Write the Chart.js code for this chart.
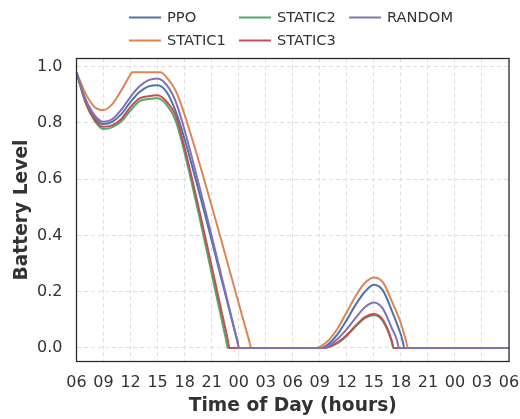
<!DOCTYPE html>
<html>
<head>
<meta charset="utf-8">
<script src="https://cdn.jsdelivr.net/npm/chart.js@4.4.1/dist/chart.umd.min.js"></script>
<style>
    html, body { margin: 0; padding: 0; background: #ffffff; }
    #wrap { width: 520px; height: 419px; }
</style>
</head>
<body>
<div id="wrap"><canvas id="chart" width="520" height="419"></canvas></div>
<script>
// ==========================================
// DATOS (horas desde las 06:00 del primer día)
// ==========================================
const ppoHours = [0, 1, 2, 3, 4, 5, 6, 7, 8, 9, 10, 11, 12, 17.8, 18.05, 27.1, 28, 29, 30, 31, 32, 33, 34, 35, 36, 36.2, 36.4, 48];
const ppoLevel = [0.98, 0.88, 0.82, 0.796, 0.805, 0.832, 0.875, 0.91, 0.93, 0.934, 0.91, 0.842, 0.742, 0.031, 0, 0, 0.015, 0.05, 0.1, 0.155, 0.2, 0.225, 0.205, 0.132, 0.047, 0.024, 0, 0];

const static1Hours = [0, 1, 2, 3, 4, 5, 6, 6.15, 9.3, 10, 11, 12, 19.15, 19.4, 26.6, 27, 28, 29, 30, 31, 32, 33, 34, 35, 36, 36.55, 36.8, 48];
const static1Level = [0.98, 0.905, 0.857, 0.846, 0.868, 0.917, 0.973, 0.98, 0.98, 0.962, 0.915, 0.829, 0.028, 0, 0, 0.004, 0.028, 0.07, 0.128, 0.186, 0.231, 0.251, 0.234, 0.166, 0.088, 0.028, 0, 0];

const static2Hours = [0, 1, 2, 3, 4, 5, 6, 7, 8, 9, 10, 11, 12, 16.55, 16.8, 27.4, 28, 29, 30, 31, 32, 33, 34, 35, 35.15, 48];
const static2Level = [0.98, 0.872, 0.808, 0.778, 0.785, 0.806, 0.845, 0.877, 0.885, 0.888, 0.865, 0.808, 0.693, 0.036, 0, 0, 0.003, 0.018, 0.043, 0.077, 0.106, 0.116, 0.095, 0.02, 0, 0];

const static3Hours = [0, 1, 2, 3, 4, 5, 6, 7, 8, 9, 10, 11, 12, 16.75, 17, 27.4, 28, 29, 30, 31, 32, 33, 34, 35, 35.2, 48];
const static3Level = [0.98, 0.875, 0.813, 0.786, 0.792, 0.815, 0.857, 0.887, 0.895, 0.898, 0.876, 0.827, 0.712, 0.036, 0, 0, 0.004, 0.02, 0.046, 0.08, 0.11, 0.121, 0.1, 0.025, 0, 0];

const randomHours = [0, 1, 2, 3, 4, 5, 6, 7, 8, 9, 10, 11, 12, 17.8, 18.05, 27.2, 28, 29, 30, 31, 32, 33, 34, 35, 35.55, 35.8, 48];
const randomLevel = [0.98, 0.885, 0.828, 0.804, 0.814, 0.848, 0.893, 0.93, 0.952, 0.958, 0.935, 0.877, 0.774, 0.032, 0, 0, 0.008, 0.033, 0.067, 0.108, 0.145, 0.162, 0.14, 0.07, 0.03, 0, 0];

const xTickHours = [0, 3, 6, 9, 12, 15, 18, 21, 24, 27, 30, 33, 36, 39, 42, 45, 48];
const xTickLabels = ['06', '09', '12', '15', '18', '21', '00', '03', '06', '09', '12', '15', '18', '21', '00', '03', '06'];
const yTickValues = [0, 0.2, 0.4, 0.6, 0.8, 1.0];

function toPoints(hours, level) {
    return hours.map((h, i) => ({ x: h, y: level[i] }));
}

// ==========================================
// SERIES (orden de dibujo: RANDOM encima)
// ==========================================
const series = [
    { label: 'PPO', data: toPoints(ppoHours, ppoLevel), color: '#4c72b0', order: 4 },
    { label: 'STATIC1', data: toPoints(static1Hours, static1Level), color: '#dd8452', order: 3 },
    { label: 'STATIC2', data: toPoints(static2Hours, static2Level), color: '#55a868', order: 2 },
    { label: 'STATIC3', data: toPoints(static3Hours, static3Level), color: '#c44e52', order: 1 },
    { label: 'RANDOM', data: toPoints(randomHours, randomLevel), color: '#8172b3', order: 0 }
];

const TEXT_COLOR = '#333333';
const FONT = "'DejaVu Sans', sans-serif";

// marco negro alrededor del área del gráfico
const framePlugin = {
    id: 'frame',
    afterDraw(chart) {
        const { ctx, chartArea: a } = chart;
        ctx.save();
        ctx.strokeStyle = '#262626';
        ctx.lineWidth = 1.25;
        ctx.strokeRect(a.left, a.top, a.right - a.left, a.bottom - a.top);
        ctx.restore();
    }
};

// leyenda en columnas, como matplotlib (ncol=3)
const legendPlugin = {
    id: 'colLegend',
    afterDraw(chart) {
        const ctx = chart.ctx;
        const colX = [129, 239, 349];
        const rowY = [17.5, 40.5];
        ctx.save();
        ctx.font = '14.67px ' + FONT;
        ctx.textBaseline = 'middle';
        ctx.textAlign = 'left';
        chart.data.datasets.forEach((ds, i) => {
            const x = colX[Math.floor(i / 2)];
            const y = rowY[i % 2];
            ctx.strokeStyle = ds.borderColor;
            ctx.lineWidth = 2;
            ctx.beginPath();
            ctx.moveTo(x, y);
            ctx.lineTo(x + 32, y);
            ctx.stroke();
            ctx.fillStyle = TEXT_COLOR;
            ctx.fillText(ds.label, x + 38, y + 1);
        });
        ctx.restore();
    }
};

new Chart(document.getElementById('chart'), {
    type: 'line',
    data: {
        datasets: series.map(s => ({
            label: s.label,
            data: s.data,
            borderColor: s.color,
            backgroundColor: s.color,
            borderWidth: 2,
            pointRadius: 0,
            cubicInterpolationMode: 'monotone',
            fill: false,
            order: s.order
        }))
    },
    options: {
        responsive: false,
        animation: false,
        devicePixelRatio: 1,
        layout: { padding: { left: 0, top: 58.5, right: 0, bottom: 0 } },
        plugins: {
            legend: { display: false },
            tooltip: { enabled: false }
        },
        scales: {
            x: {
                type: 'linear',
                min: 0,
                max: 48,
                afterBuildTicks: scale => { scale.ticks = xTickHours.map(v => ({ value: v })); },
                afterFit: scale => { scale.height = 57.5; scale.paddingRight = 11; },
                grid: { color: '#dddddd', lineWidth: 1, drawTicks: false },
                border: { display: false, dash: [4, 3] },
                ticks: {
                    autoSkip: false,
                    maxRotation: 0,
                    padding: 12,
                    color: TEXT_COLOR,
                    font: { family: FONT, size: 16 },
                    callback: (v, i) => xTickLabels[i]
                },
                title: {
                    display: true,
                    text: 'Time of Day (hours)',
                    color: TEXT_COLOR,
                    font: { family: FONT, size: 18.67, weight: 'bold' },
                    padding: { top: 0, bottom: 1.5 }
                }
            },
            y: {
                min: -0.048,
                max: 1.029,
                afterBuildTicks: scale => { scale.ticks = yTickValues.map(v => ({ value: v })); },
                afterFit: scale => { scale.width = 76.5; },
                grid: { color: '#dddddd', lineWidth: 1, drawTicks: false },
                border: { display: false, dash: [4, 3] },
                ticks: {
                    padding: 14,
                    color: TEXT_COLOR,
                    font: { family: FONT, size: 16 },
                    callback: v => v.toFixed(1)
                },
                title: {
                    display: true,
                    text: 'Battery Level',
                    color: TEXT_COLOR,
                    font: { family: FONT, size: 18.67, weight: 'bold' },
                    padding: { top: 10.5, bottom: 0 }
                }
            }
        }
    },
    plugins: [framePlugin, legendPlugin]
});
</script>
</body>
</html>
